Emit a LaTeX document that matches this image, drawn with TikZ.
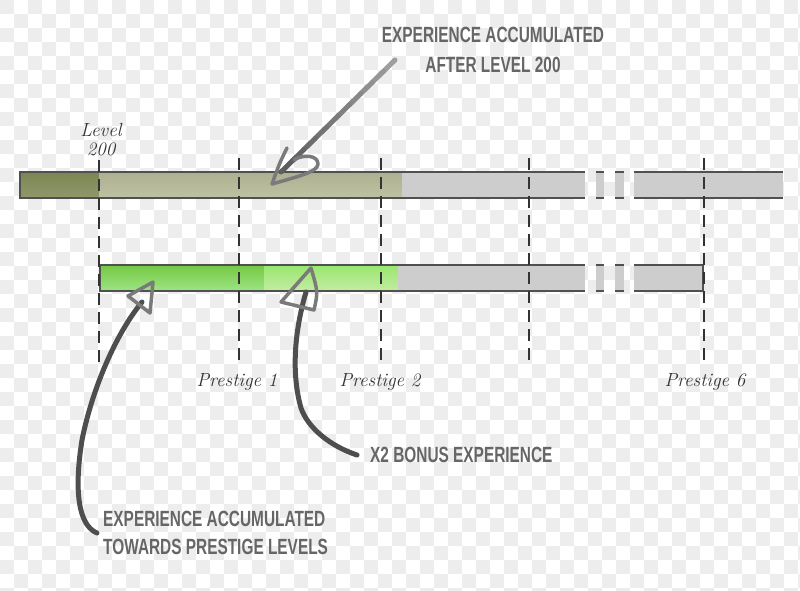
\documentclass[tikz,border=0pt]{standalone}
\usepackage{fontspec}
\usepackage{tikz}
\usetikzlibrary{positioning,calc}
\newfontfamily\calloutfont[FakeStretch=0.7]{Liberation Sans}
\definecolor{chkgrey}{HTML}{EDEDED}
\definecolor{olivedark}{HTML}{7C8652}
\definecolor{olivelight}{HTML}{B7BA98}
\definecolor{bargrey}{HTML}{CDCDCD}
\definecolor{edgegrey}{HTML}{505050}
\definecolor{greendark}{HTML}{74C842}
\definecolor{greenlight}{HTML}{A9E47A}
\definecolor{inkgrey}{HTML}{666666}
\definecolor{pengrey}{HTML}{4E4E4E}

\begin{document}
\begin{tikzpicture}[x=1pt,y=-1pt,
  tag/.style={font=\fontsize{19}{17}\selectfont\itshape,text=black!80,inner sep=0pt},
  callout/.style={font=\calloutfont\bfseries\fontsize{22}{30}\selectfont,text=inkgrey,inner sep=0pt},
  marker/.style={draw=black!80,line width=1.3pt,dash pattern=on 12pt off 7pt},
  rim/.style={draw=edgegrey,line width=1.3pt},
  pen/.style={draw=pengrey,line width=5pt,line cap=round},
  penhead/.style={draw=pengrey!75,line width=3.5pt,line join=round,line cap=round},
]
\useasboundingbox (0,0) rectangle (800,590);
\begin{scope}
  \clip (0,0) rectangle (800,590);
  \fill[white] (0,0) rectangle (800,590);
  \foreach \i in {0,...,57}{
    \foreach \j in {0,...,42}{
      \pgfmathtruncatemacro\odd{mod(\i+\j,2)}
      \ifnum\odd=0 \fill[chkgrey] (\i*14,\j*14) rectangle ++(14,14); \fi
    }
  }
\end{scope}

% upper bar
\shade[top color=olivedark,bottom color=olivedark!85!white] (20,172) rectangle (99,198);
\shade[top color=olivelight!95!black,bottom color=olivelight!90!white] (99,172) rectangle (402,198);
\fill[bargrey] (402,172) rectangle (585,198);
\foreach \a/\b in {596/604,615/624,634/783}{
  \fill[bargrey] (\a,172) rectangle (\b,198);
  \draw[rim] (\a,172) -- (\b,172) (\a,198) -- (\b,198);
}
\draw[rim] (585,172) -- (20,172) -- (20,198) -- (585,198);

% lower bar
\shade[top color=greendark,bottom color=greendark!80!green!60!white] (100,265) rectangle (264,291);
\shade[top color=greenlight!90!green,bottom color=greenlight!70!white] (264,265) rectangle (398,291);
\fill[bargrey] (398,265) rectangle (585,291);
\foreach \a/\b in {596/604,615/624,634/703}{
  \fill[bargrey] (\a,265) rectangle (\b,291);
  \draw[rim] (\a,265) -- (\b,265) (\a,291) -- (\b,291);
}
\draw[rim] (585,265) -- (100,265) -- (100,291) -- (585,291);
\draw[rim] (703,265) -- (703,291);

\draw[marker] (99,160) -- (99,362);
\foreach \x in {239,381,529,704}
  \draw[marker] (\x,158) -- (\x,360);

\node[tag] (lvl) at (101,130) {Level};
\node[tag] (lvlnum) at (101,149) {200};
\node[tag] (p1) at (237,382) {Prestige 1};
\node[tag] (p2) at (380,382) {Prestige 2};
\node[tag] (p6) at (705,382) {Prestige 6};

\node[callout,align=center] (after) at (493,50) {EXPERIENCE ACCUMULATED\\AFTER LEVEL 200};
\node[callout,anchor=west] (bonus) at (370,455) {X2 BONUS EXPERIENCE};
\node[callout,align=left,anchor=west,font=\calloutfont\bfseries\fontsize{22}{28}\selectfont]
  (towards) at (103,533) {EXPERIENCE ACCUMULATED\\TOWARDS PRESTIGE LEVELS};

\coordinate (aftertail) at (395,60);
\coordinate (afterneck) at (281,172);
\coordinate (aftertip) at (272,184);
\coordinate (bonustip) at (311,268);
\coordinate (towardstip) at (153,282);

\foreach \k [evaluate=\k as \shadeval using 55+4*\k] in {0,...,9}
  \draw[pen,pengrey!\shadeval!white]
    ($(aftertail)!\k/10!(afterneck)$) -- ($(aftertail)!\k/10+0.1!(afterneck)$);
\draw[penhead] (287,148) .. controls (280,162) .. (aftertip)
  .. controls (296,177) and (318,172) .. (318,164)
  .. controls (318,155) and (303,154) .. (294,160);

\draw[pen] ([xshift=-13pt]bonus.west) .. controls (330,446) and (308,428) .. (301,408)
  .. controls (293,380) and (292,340) .. (306,292);
\draw[penhead] (bonustip) -- (281,302) -- (314,310) .. controls (318,292) .. (bonustip);

\draw[pen] ([xshift=-6pt]towards.west) .. controls (78,525) and (74,490) .. (82,440)
  .. controls (92,390) and (115,335) .. (142,302);
\draw[penhead] (towardstip) -- (128,296) -- (150,313) .. controls (152,298) .. (towardstip);
\end{tikzpicture}
\end{document}
